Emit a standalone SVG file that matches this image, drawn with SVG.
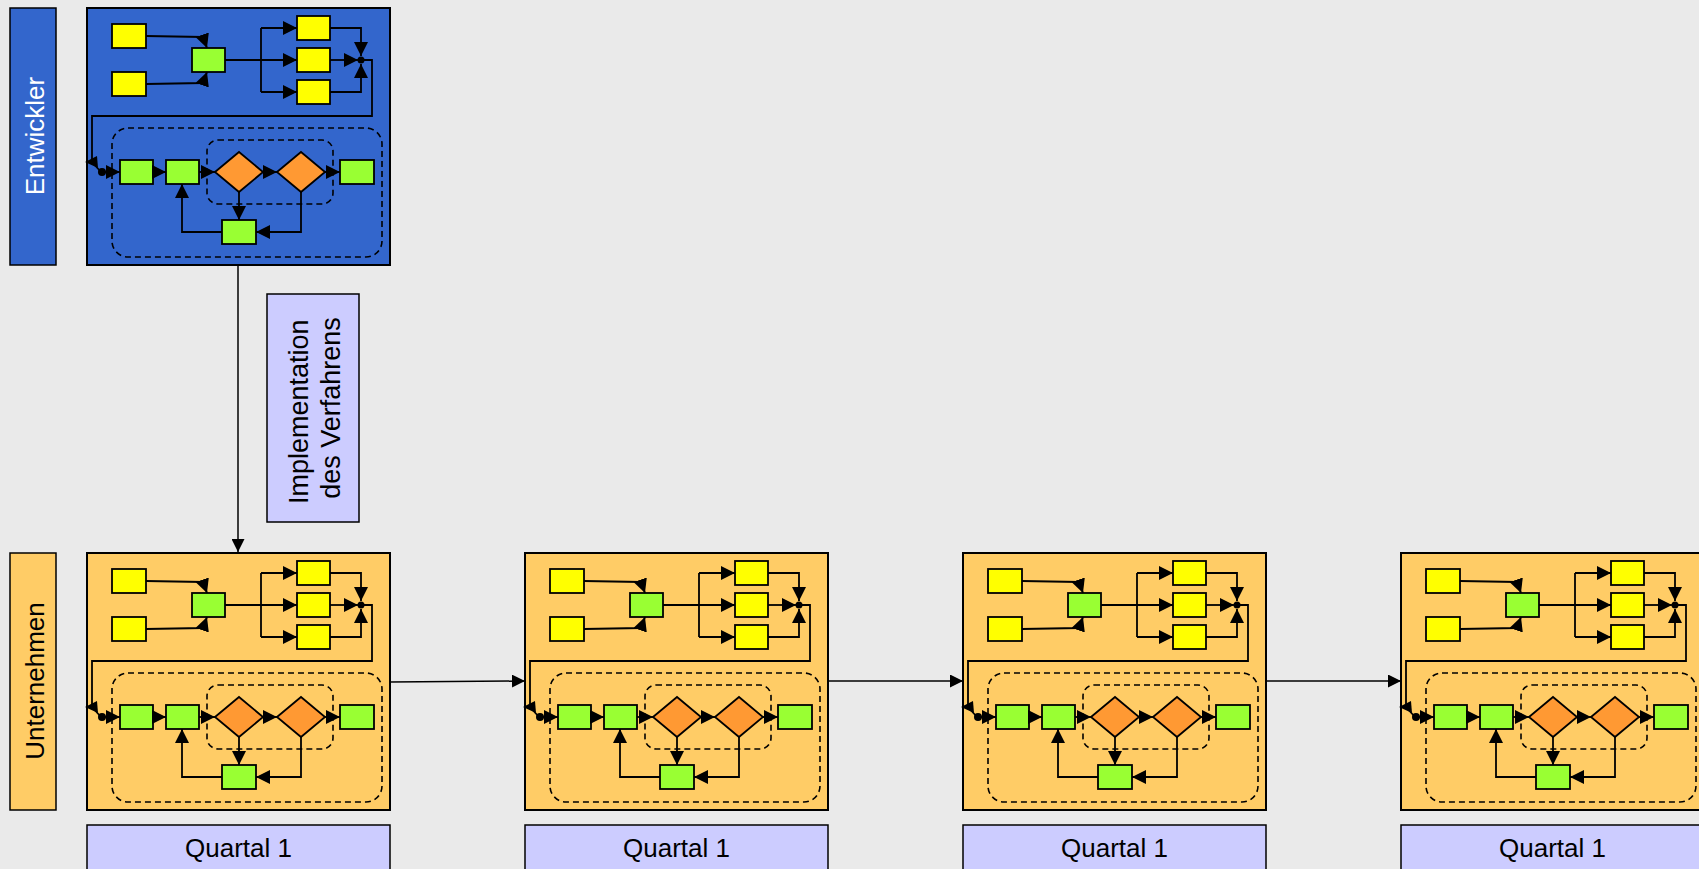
<svg xmlns="http://www.w3.org/2000/svg" xmlns:xlink="http://www.w3.org/1999/xlink" width="1699" height="869" viewBox="0 0 1699 869">
<style>
  .bg{fill:#EAEAEA}
  .lbl{stroke:#000;stroke-width:1.5}
  .blue{fill:#3366CC}
  .org{fill:#FFCC66}
  .lav{fill:#CCCCFF}
  .blk{stroke:#000;stroke-width:2}
  .y{fill:#FFFF00;stroke:#000;stroke-width:1.8}
  .g{fill:#99FF33;stroke:#000;stroke-width:1.8}
  .d{fill:#FF9933;stroke:#000;stroke-width:1.8}
  .c{fill:none;stroke:#000;stroke-width:1.8;marker-end:url(#ah)}
  .l{fill:none;stroke:#000;stroke-width:1.8}
  .dash{fill:none;stroke:#000;stroke-width:1.6;stroke-dasharray:6 4}
  .t{font-family:"Liberation Sans",Arial,sans-serif;font-size:26px;text-anchor:middle}
  .conn{fill:none;stroke:#000;stroke-width:1.5;marker-end:url(#ah2)}
</style>
<defs>
  <marker id="ah" viewBox="0 0 14 14" refX="14" refY="7" markerWidth="14" markerHeight="14" markerUnits="userSpaceOnUse" orient="auto">
    <path d="M0,0 L14,7 L0,14 Z" fill="#000"/>
  </marker>
  <marker id="ah2" viewBox="0 0 12 12" refX="12" refY="6" markerWidth="13" markerHeight="13" markerUnits="userSpaceOnUse" orient="auto">
    <path d="M0,0 L12,6 L0,12 Z" fill="#000"/>
  </marker>
  <g id="flow">
    <rect class="y" x="25" y="16" width="34" height="24"/>
    <rect class="y" x="25" y="64" width="34" height="24"/>
    <rect class="g" x="105" y="40" width="33" height="24"/>
    <rect class="y" x="210" y="8" width="33" height="24"/>
    <rect class="y" x="210" y="40" width="33" height="24"/>
    <rect class="y" x="210" y="72" width="33" height="24"/>
    <path class="c" d="M59,28 L116,29 L120,40"/>
    <path class="c" d="M59,76 L116,75 L120,64"/>
    <path class="l" d="M138,52 H174 M174,20 V84"/>
    <path class="c" d="M174,20 H210"/>
    <path class="c" d="M174,52 H210"/>
    <path class="c" d="M174,84 H210"/>
    <path class="c" d="M243,20 H274 V48"/>
    <path class="c" d="M243,52 H271"/>
    <path class="c" d="M243,84 H274 V56"/>
    <circle cx="274" cy="52" r="3.5"/>
    <path class="l" d="M274,52 H285 V108 H5 V154"/>
    <polygon points="-2,154 10,148 11,160" fill="#000"/>
    <path class="l" d="M5,154 L14,164"/>
    <circle cx="15" cy="164" r="4"/>
    <path class="c" d="M15,164 H33"/>
    <rect class="dash" x="25" y="120" width="270" height="129" rx="16"/>
    <rect class="dash" x="120" y="132" width="126" height="64" rx="11"/>
    <rect class="g" x="33" y="152" width="33" height="24"/>
    <path class="c" d="M66,164 H79"/>
    <rect class="g" x="79" y="152" width="33" height="24"/>
    <path class="c" d="M112,164 H128"/>
    <polygon class="d" points="128,164 152,144 176,164 152,184"/>
    <path class="c" d="M176,164 H190"/>
    <polygon class="d" points="190,164 214,144 238,164 214,184"/>
    <path class="c" d="M238,164 H253"/>
    <rect class="g" x="253" y="152" width="34" height="24"/>
    <rect class="g" x="135" y="212" width="34" height="24"/>
    <path class="c" d="M152,184 V212"/>
    <path class="c" d="M214,184 V224 H169"/>
    <path class="c" d="M135,224 H95 V176"/>
  </g>
</defs>
<rect class="bg" x="0" y="0" width="1699" height="869"/>

<g id="lane-entwickler">
  <rect class="blue lbl" x="10" y="8" width="46" height="257"/>
  <text class="t" fill="#FFFFFF" transform="translate(34,136) rotate(-90)" x="0" y="10">Entwickler</text>
</g>
<g id="lane-unternehmen">
  <rect class="org lbl" x="10" y="553" width="46" height="257"/>
  <text class="t" fill="#000" transform="translate(34,681) rotate(-90)" x="0" y="10">Unternehmen</text>
</g>

<g id="block-entwickler">
  <rect class="blue blk" x="87" y="8" width="303" height="257"/>
  <use xlink:href="#flow" href="#flow" transform="translate(87,8)"/>
</g>

<g id="label-implementation">
  <rect class="lav lbl" x="267" y="294" width="92" height="228"/>
  <text class="t" fill="#000" transform="translate(313,408) rotate(-90)" style="font-size:27px">
    <tspan x="0" y="-5">Implementation</tspan>
    <tspan x="0" y="27">des Verfahrens</tspan>
  </text>
</g>

<g id="block-q1">
  <rect class="org blk" x="87" y="553" width="303" height="257"/>
  <use xlink:href="#flow" href="#flow" transform="translate(87,553)"/>
</g>
<g id="block-q2">
  <rect class="org blk" x="525" y="553" width="303" height="257"/>
  <use xlink:href="#flow" href="#flow" transform="translate(525,553)"/>
</g>
<g id="block-q3">
  <rect class="org blk" x="963" y="553" width="303" height="257"/>
  <use xlink:href="#flow" href="#flow" transform="translate(963,553)"/>
</g>
<g id="block-q4">
  <rect class="org blk" x="1401" y="553" width="303" height="257"/>
  <use xlink:href="#flow" href="#flow" transform="translate(1401,553)"/>
</g>

<g id="quartal-1">
  <rect class="lav lbl" x="87" y="825" width="303" height="50"/>
  <text class="t" fill="#000" x="238.5" y="857">Quartal 1</text>
</g>
<g id="quartal-2">
  <rect class="lav lbl" x="525" y="825" width="303" height="50"/>
  <text class="t" fill="#000" x="676.5" y="857">Quartal 1</text>
</g>
<g id="quartal-3">
  <rect class="lav lbl" x="963" y="825" width="303" height="50"/>
  <text class="t" fill="#000" x="1114.5" y="857">Quartal 1</text>
</g>
<g id="quartal-4">
  <rect class="lav lbl" x="1401" y="825" width="303" height="50"/>
  <text class="t" fill="#000" x="1552.5" y="857">Quartal 1</text>
</g>

<g id="connectors">
  <path class="conn" d="M238,265 V552"/>
  <path class="conn" d="M390,682 L525,681"/>
  <path class="conn" d="M828,681 H963"/>
  <path class="conn" d="M1266,681 H1401"/>
</g>
</svg>
